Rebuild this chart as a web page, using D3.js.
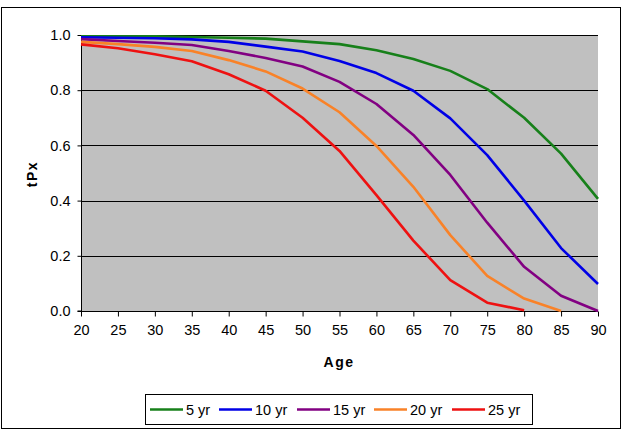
<!DOCTYPE html>
<html><head><meta charset="utf-8">
<script src="https://cdn.jsdelivr.net/npm/d3@7"></script>
<style>body{margin:0;background:#fff}svg{display:block}text{font-family:"Liberation Sans",Arial,sans-serif}</style>
</head><body><svg id="c" width="623" height="434"></svg>
<script>
const ages = [20,25,30,35,40,45,50,55,60,65,70,75,80,85,90];
const yTicks = [0,0.2,0.4,0.6,0.8,1.0];
const seriesNames = ["5 yr","10 yr","15 yr","20 yr","25 yr"];
const seriesColors = ["#17801a","#0000e6","#820082","#f98228","#ee1111"];
const s5  = [0.995,0.995,0.995,0.993,0.99,0.987,0.977,0.967,0.945,0.913,0.87,0.804,0.70,0.57,0.406];
const s10 = [0.992,0.99,0.988,0.984,0.975,0.958,0.94,0.906,0.862,0.798,0.698,0.565,0.40,0.228,0.098];
const s15 = [0.985,0.978,0.972,0.964,0.942,0.917,0.886,0.83,0.75,0.638,0.493,0.32,0.16,0.055,0.0];
const s20 = [0.975,0.967,0.957,0.942,0.909,0.868,0.806,0.72,0.598,0.45,0.275,0.127,0.045,0.0,null];
const s25 = [0.966,0.952,0.93,0.905,0.858,0.798,0.70,0.58,0.42,0.255,0.112,0.03,0.003,null,null];
const allSeries = [s5,s10,s15,s20,s25];

const svg = d3.select("#c");
const L=81,T=35,R=598,B=311;
const x = d3.scaleLinear().domain([20,90]).range([L,R]);
const y = d3.scaleLinear().domain([0,1]).range([B,T]);
const FS = "14.5px";

svg.append("rect").attr("x",1.5).attr("y",7.5).attr("width",619).attr("height",421)
  .attr("fill","#fff").attr("stroke","#000").attr("stroke-width",1);
svg.append("rect").attr("x",L).attr("y",T).attr("width",R-L).attr("height",B-T).attr("fill","#c0c0c0");

// gridlines
svg.append("g").selectAll("line").data(yTicks.filter(d=>d>0)).join("line")
  .attr("x1",L).attr("x2",R).attr("y1",d=>Math.round(y(d))+0.5).attr("y2",d=>Math.round(y(d))+0.5)
  .attr("stroke","#000").attr("stroke-width",1);

// axes
const yAxis = d3.axisLeft(y).tickValues(yTicks).tickFormat(d3.format(".1f")).tickSize(4).tickPadding(7);
const gy = svg.append("g").attr("transform",`translate(${L+0.5},0)`).call(yAxis);
const xAxis = d3.axisBottom(x).tickValues(ages).tickSize(5).tickPadding(8);
const gx = svg.append("g").attr("transform",`translate(0,${B+0.5})`).call(xAxis);
[gy,gx].forEach(g=>{
  g.select(".domain").attr("stroke","#000");
  g.selectAll(".tick line").attr("stroke","#000");
  g.selectAll(".tick text").attr("fill","#000").style("font-size",FS).style("font-family","'Liberation Sans',Arial,sans-serif");
});
gy.select(".domain").attr("d",`M-4,${B}H0V${T}`);
gx.select(".domain").attr("d",`M${L},0H${R}`);

// lines
const line = d3.line().defined(d=>d[1]!=null).x(d=>x(d[0])).y(d=>y(d[1]));
allSeries.forEach((s,i)=>{
  const pts = ages.map((a,j)=>[a,s[j]]);
  svg.append("path").datum(pts).attr("d",line).attr("fill","none")
    .attr("stroke",seriesColors[i]).attr("stroke-width",2.6).attr("stroke-linejoin","round");
});

// axis titles
svg.append("text").attr("x",339).attr("y",367).attr("text-anchor","middle")
  .style("font-size","14px").style("font-weight","bold").style("letter-spacing","1.5px").text("Age");
svg.append("text").attr("transform","translate(37,174) rotate(-90)").attr("text-anchor","middle")
  .style("font-size","14px").style("font-weight","bold").style("letter-spacing","1.5px").text("tPx");

// legend
svg.append("rect").attr("x",145.5).attr("y",394.5).attr("width",387).attr("height",30)
  .attr("fill","#fff").attr("stroke","#000");
const lx = [150,219,297,374,452];
const lg = svg.append("g");
seriesNames.forEach((n,i)=>{
  lg.append("line").attr("x1",lx[i]).attr("x2",lx[i]+33).attr("y1",409.5).attr("y2",409.5)
    .attr("stroke",seriesColors[i]).attr("stroke-width",2.6);
  lg.append("text").attr("x",lx[i]+36).attr("y",414.5).style("font-size",FS).text(n);
});
</script></body></html>
